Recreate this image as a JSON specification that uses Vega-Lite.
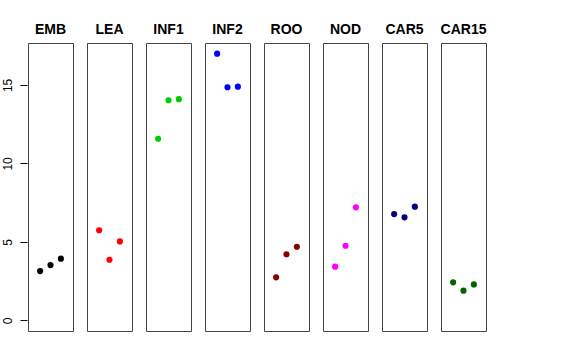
{
  "$schema": "https://vega.github.io/schema/vega-lite/v6.json",
  "background": "white",
  "padding": {"left": 1, "top": 23, "right": 0, "bottom": 0},
  "data": {"values": [
    {"g": "EMB", "x": 1, "y": 3.14}, {"g": "EMB", "x": 2, "y": 3.52}, {"g": "EMB", "x": 3, "y": 3.93},
    {"g": "LEA", "x": 1, "y": 5.74}, {"g": "LEA", "x": 2, "y": 3.86}, {"g": "LEA", "x": 3, "y": 5.03},
    {"g": "INF1", "x": 1, "y": 11.57}, {"g": "INF1", "x": 2, "y": 14.02}, {"g": "INF1", "x": 3, "y": 14.09},
    {"g": "INF2", "x": 1, "y": 16.99}, {"g": "INF2", "x": 2, "y": 14.85}, {"g": "INF2", "x": 3, "y": 14.89},
    {"g": "ROO", "x": 1, "y": 2.74}, {"g": "ROO", "x": 2, "y": 4.21}, {"g": "ROO", "x": 3, "y": 4.69},
    {"g": "NOD", "x": 1, "y": 3.42}, {"g": "NOD", "x": 2, "y": 4.75}, {"g": "NOD", "x": 3, "y": 7.2},
    {"g": "CAR5", "x": 1, "y": 6.77}, {"g": "CAR5", "x": 2, "y": 6.56}, {"g": "CAR5", "x": 3, "y": 7.24},
    {"g": "CAR15", "x": 1, "y": 2.42}, {"g": "CAR15", "x": 2, "y": 1.89}, {"g": "CAR15", "x": 3, "y": 2.29}
  ]},
  "facet": {
    "column": {
      "field": "g",
      "type": "nominal",
      "sort": ["EMB", "LEA", "INF1", "INF2", "ROO", "NOD", "CAR5", "CAR15"],
      "title": null,
      "header": {
        "labelFont": "Liberation Sans",
        "labelFontSize": 14,
        "labelFontWeight": "bold",
        "labelColor": "black",
        "labelPadding": -6,
        "labelBaseline": "alphabetic"
      }
    }
  },
  "spacing": 12,
  "spec": {
    "width": 45,
    "height": 288,
    "mark": {"type": "circle", "size": 38, "opacity": 1},
    "encoding": {
      "x": {
        "field": "x",
        "type": "quantitative",
        "scale": {"domain": [-0.17, 4.17], "nice": false, "zero": false},
        "axis": null
      },
      "y": {
        "field": "y",
        "type": "quantitative",
        "scale": {"domain": [-0.68, 17.67], "nice": false, "zero": false},
        "axis": {
          "title": null,
          "values": [0, 5, 10, 15],
          "grid": false,
          "domain": false,
          "tickSize": 7,
          "tickColor": "black",
          "labelAngle": -90,
          "labelAlign": "center",
          "labelBaseline": "bottom",
          "labelPadding": 6,
          "labelFont": "Liberation Sans",
          "labelFontSize": 12,
          "labelColor": "black"
        }
      },
      "color": {
        "field": "g",
        "type": "nominal",
        "scale": {
          "domain": ["EMB", "LEA", "INF1", "INF2", "ROO", "NOD", "CAR5", "CAR15"],
          "range": ["#000000", "#FF0000", "#00CD00", "#0000FF", "#8B0000", "#FF00FF", "#000080", "#006400"]
        },
        "legend": null
      }
    }
  },
  "config": {
    "view": {"stroke": "#444444", "strokeWidth": 1}
  }
}
